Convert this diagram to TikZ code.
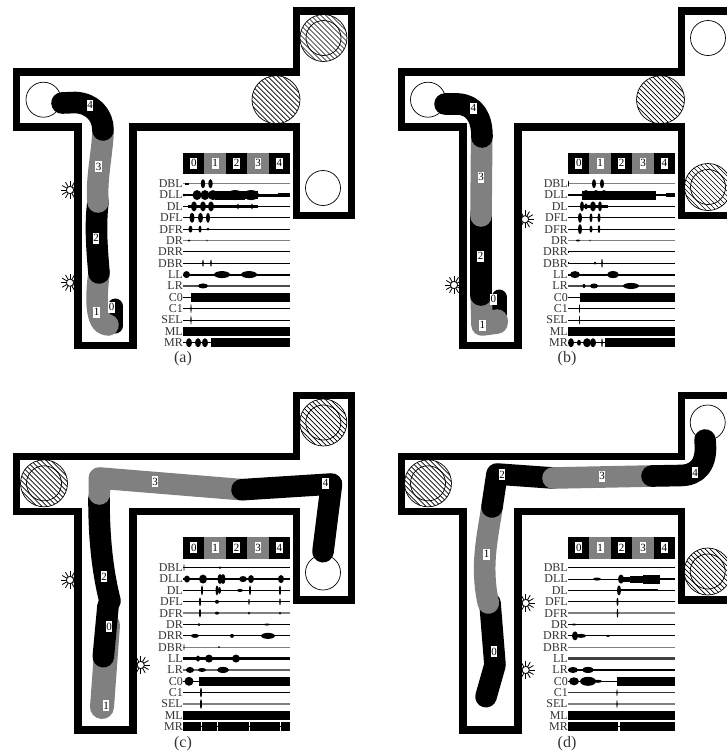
\documentclass[tikz,border=0pt]{standalone}
\usepackage{fontspec}
\setmainfont{Liberation Serif}
\definecolor{gr}{gray}{0.5}
\definecolor{txt}{gray}{0.2}
\tikzset{
  wallline/.style={line width=7.4pt,draw=black,line join=miter},
  segblack/.style={line width=21.6pt,draw=black,line cap=round,line join=round},
  seggray/.style={line width=21.6pt,draw=gr,line cap=round,line join=round},
  numbox/.style={fill=white,inner sep=0pt,minimum width=6.8pt,minimum height=11pt,font=\fontsize{11}{11}\selectfont,text=black},
  siglabel/.style={anchor=east,inner sep=0pt,font=\fontsize{12}{12}\selectfont,text=txt},
  caption/.style={inner sep=0pt,font=\fontsize{16}{16}\selectfont,text=txt},
  ring/.style={draw=black,line width=0.7pt},
}
\newcommand\arena{%
  \draw[wallline] (78,127)--(16.7,127)--(16.7,72)--(296.5,72)--(296.5,11)--(351.7,11)--(351.7,215.5)--(296.5,215.5)--(296.5,127)--(133,127)--(133,345.5)--(78,345.5)--cycle;}
\newcommand\hatchcirc[3]{%
  \begin{scope}
    \clip (#1,#2) circle (#3);
    \foreach \d in {-50,-45,...,50}
      \draw[line width=0.7pt] ({#1+\d-30},{#2-30})--({#1+\d+30},{#2+30});
  \end{scope}
  \draw[ring] (#1,#2) circle (#3);}
\newcommand\hatchinner[2]{\hatchcirc{#1}{#2}{23.5}\draw[ring] (#1,#2) circle (17.5);}
\newcommand\opencirc[2]{\draw[ring,fill=white] (#1,#2) circle (17.5);}
\newcommand\sunburst[2]{%
  \foreach \a in {0,30,...,330}
    \draw[line width=0.8pt] ($(#1,#2)+(\a:3)$)--($(#1,#2)+(\a:9)$);
  \draw[line width=0.8pt,fill=white] (#1,#2) circle (3.6);}
\newcommand\phasebar[1]{%
  \fill[black] (183.3,152.7) rectangle (204.3,174);
  \fill[gr] (204.3,152.7) rectangle (226,174);
  \fill[black] (226,152.7) rectangle (247.3,174);
  \fill[gr] (247.3,152.7) rectangle (268.7,174);
  \fill[black] (268.7,152.7) rectangle (290,174);
  \node[numbox] (#1-b0) at (193.8,163.3) {0};
  \node[numbox] (#1-b1) at (215.2,163.3) {1};
  \node[numbox] (#1-b2) at (236.7,163.3) {2};
  \node[numbox] (#1-b3) at (258,163.3) {3};
  \node[numbox] (#1-b4) at (279.4,163.3) {4};}
\newcommand\sigrow[7]{%
  \begin{scope}[shift={(183,{183.7+#3*11.36})}]
    \draw[#4,line width=#5pt+0.2pt] (0,0)--(107,0);
    \foreach \px/\pw/\ph in {#6} \fill[black] (\px,0) ellipse [x radius=\pw,y radius=\ph];
    \foreach \pa/\pb/\ph in {#7} \fill[black] (\pa,-\ph) rectangle (\pb,\ph);
    \node[siglabel] (#1-#2) at (0,0) {#2};
  \end{scope}}
\newcommand\nosig{0/.01/.01}
\newcommand\nobar{0/.01/.01}
\usetikzlibrary{calc}
\begin{document}
\begin{tikzpicture}[x=1pt,y=-1pt]
\useasboundingbox (0,0) rectangle (727,753);
\clip (0,0) rectangle (727,753);
% ---------- panel a
\sunburst{70}{190}\sunburst{70}{282.7}
\arena
\hatchinner{323.5}{38}
\hatchcirc{276}{99.7}{24}
\opencirc{43.5}{99.7}
\opencirc{323}{188}
\draw[line width=15pt,line cap=round,draw=black] (115,306)--(115,326);
\draw[seggray] (99,273)..controls (96,295) and (95,325)..(108,325);
\draw[segblack] (98,202)..controls (95,225) and (97,250)..(99,273);
\draw[seggray] (103,132)..controls (102,155) and (96,180)..(98,202);
\draw[segblack] (62,103)--(75,102.5)..controls (92,103) and (103,115)..(103,130);
\node[numbox] (a-n0) at (111.5,307) {0};
\node[numbox] (a-n1) at (96.7,312) {1};
\node[numbox] (a-n2) at (96,238) {2};
\node[numbox] (a-n3) at (98.7,166.7) {3};
\node[numbox] (a-n4) at (90,105) {4};
\phasebar{a}
\sigrow{a}{DBL}{0}{gr}{1}{20/2.2/4.5,27.5/2.2/4.5}{2/6/1}
\sigrow{a}{DLL}{1}{black}{1.5}{1/1.5/1.5,14/4.5/5,22/4.5/5,30/5/5,52/8/5,68/8/5}{32/62/4.5,62/75/4,75/95/1.5,95/107/2}
\sigrow{a}{DL}{2}{black}{1}{11/3/5,20/3/5,28/3/5,55/.8/3,69/.8/3}{5/75/1.2}
\sigrow{a}{DFL}{3}{black}{.8}{9/2.5/5,17.5/2.5/5,25/2/5}{\nobar}
\sigrow{a}{DFR}{4}{black}{.8}{7.5/2/3.5,17/1.5/3.5,25/1.5/1.5}{\nobar}
\sigrow{a}{DR}{5}{gr}{1.2}{6/1.5/1,24/.6/1}{\nobar}
\sigrow{a}{DRR}{6}{black}{.8}{\nosig}{\nobar}
\sigrow{a}{DBR}{7}{black}{.7}{20/.8/3.5,28/.8/3.5}{\nobar}
\sigrow{a}{LL}{8}{black}{1.8}{3.5/3.5/3.5,39/8/3.5,66/8/3.5}{\nobar}
\sigrow{a}{LR}{9}{black!70}{1.4}{20/5/2.5}{\nobar}
\sigrow{a}{C0}{10}{black}{.8}{\nosig}{8/107/4.7}
\sigrow{a}{C1}{11}{black}{.8}{8/.6/4.5}{\nobar}
\sigrow{a}{SEL}{12}{black}{.8}{8/.6/4.5}{\nobar}
\sigrow{a}{ML}{13}{black}{.8}{\nosig}{0/107/4.6}
\sigrow{a}{MR}{14}{black}{.8}{6/3/4.5,15/3/4.5,22/3/4.5}{28/107/4.5}
\node[caption] (a-cap) at (183,359) {(a)};
% ---------- panel b
\sunburst{454}{285}\sunburst{525}{219.3}
\begin{scope}[shift={(385,0)}]
\arena
\opencirc{43}{99.7}
\opencirc{323}{38}
\hatchcirc{275.5}{99.7}{24}
\hatchinner{323}{187}
\end{scope}
\draw[line width=15pt,line cap=round,draw=black] (499,297)--(499,318);
\draw[seggray] (481,290)--(482,325)--(497,323)--(497,320);
\draw[segblack] (481,216)--(481,295);
\draw[seggray] (481.7,137)--(481,216);
\draw[segblack] (445,104)--(458,104)..controls (475,105) and (482,118)..(482,137);
\node[numbox] (b-n0) at (493.3,299.3) {0};
\node[numbox] (b-n1) at (482.3,325) {1};
\node[numbox] (b-n2) at (480.7,256) {2};
\node[numbox] (b-n3) at (481,177) {3};
\node[numbox] (b-n4) at (473.3,108) {4};
\begin{scope}[shift={(385,0)}]
\phasebar{b}
\sigrow{b}{DBL}{0}{gr}{1}{0.5/.5/3,26/2/4.5,34/2/4.5}{\nobar}
\sigrow{b}{DLL}{1}{black}{1}{18/4.5/5,28/4.5/5,36/4/5}{14/88/4.5,88/98/1.3,98/107/2}
\sigrow{b}{DL}{2}{black}{1.2}{14/2/5,18/1.5/3,25/3/5,32/2/5}{12/40/1.5}
\sigrow{b}{DFL}{3}{black}{.8}{12/2/5,23/1.5/4.5,31/1.5/4.5}{\nobar}
\sigrow{b}{DFR}{4}{black}{.8}{12/2/5,23/1.5/3.5,31/1.2/4}{\nobar}
\sigrow{b}{DR}{5}{gr}{1.2}{10/2/1,22/.6/1}{\nobar}
\sigrow{b}{DRR}{6}{black}{.8}{\nosig}{0/1/1}
\sigrow{b}{DBR}{7}{black}{.7}{27/1.5/1.5,34/.8/4.5}{0/1/1}
\sigrow{b}{LL}{8}{black}{1.8}{7/5/3.5,45/6/3.5}{\nobar}
\sigrow{b}{LR}{9}{black!70}{1.4}{16/1.5/2,26/4/2.5,63/8/3}{\nobar}
\sigrow{b}{C0}{10}{black}{.8}{\nosig}{12/107/4.7}
\sigrow{b}{C1}{11}{black}{.8}{11.5/.5/4.5}{\nobar}
\sigrow{b}{SEL}{12}{black}{.8}{11.5/.5/4.5}{\nobar}
\sigrow{b}{ML}{13}{black}{.8}{\nosig}{0/107/4.6}
\sigrow{b}{MR}{14}{black}{.8}{3/3/4.5,11/2/3,19/4/4.5,25/3/4.5,34/.8/4.5}{37/107/4.5}
\end{scope}
\node[caption] (b-cap) at (567,359) {(b)};
% ---------- panel c
\sunburst{70}{580}\sunburst{140.7}{665}
\begin{scope}[shift={(0,384.5)}]
\arena
\hatchinner{44}{98.8}
\hatchinner{323.3}{38}
\opencirc{323}{188}
\end{scope}
\draw[gr,line width=24pt,line cap=round] (102,707)--(108,625);
\draw[segblack] (103.3,656.7)--(108,606);
\draw[segblack] (99,498)..controls (99,530) and (101,565)..(110,601);
\draw[seggray] (99.3,494)--(99.3,478)--(242,489.7);
\draw[segblack] (323,551.7)--(331.5,484)--(242,489.7);
\node[numbox] (c-n0) at (109,626.7) {0};
\node[numbox] (c-n1) at (106,705.7) {1};
\node[numbox] (c-n2) at (104,576.7) {2};
\node[numbox] (c-n3) at (155,481.7) {3};
\node[numbox] (c-n4) at (325.7,483) {4};
\begin{scope}[shift={(0,384)}]
\begin{scope}[yshift=-0.5pt]\phasebar{c}\end{scope}
\sigrow{c}{DBL}{0}{black}{.8}{1/.5/3.5,37/1/1.5}{\nobar}
\sigrow{c}{DLL}{1}{black}{1}{4/3/3.5,20/4/4.5,37/2.5/5,40/2.5/5,60/4/3,68/3/4,98/3/4}{\nobar}
\sigrow{c}{DL}{2}{black}{1}{19/1/5,34/1.5/5,36.5/1.5/3.5,57/3/1.5,67/1/5,97/1/5}{\nobar}
\sigrow{c}{DFL}{3}{black}{.8}{17/1/4.5,34/2/2,66/.8/3,97/.8/3.5}{\nobar}
\sigrow{c}{DFR}{4}{gr}{1.2}{17/1/4.5,34/2/1.5,66/1/1.5,97/1/1.5}{\nobar}
\sigrow{c}{DR}{5}{black}{.8}{16/1.5/1.5,84/3/1}{\nobar}
\sigrow{c}{DRR}{6}{black}{.9}{12/4/2,49/2/2,85/7/3}{\nobar}
\sigrow{c}{DBR}{7}{gr}{1.2}{1/.5/3,36/1/1}{\nobar}
\sigrow{c}{LL}{8}{black}{2.6}{15/2/3,26/4/4,53/4/4}{\nobar}
\sigrow{c}{LR}{9}{black!60}{1}{7/4/3,19/4/2,40/6/3}{\nobar}
\sigrow{c}{C0}{10}{black}{.8}{6/4.5/4.5}{16/107/4.7}
\sigrow{c}{C1}{11}{black}{.8}{18/1/5}{\nobar}
\sigrow{c}{SEL}{12}{gr}{1.2}{18/1/5}{\nobar}
\sigrow{c}{ML}{13}{black}{.8}{\nosig}{0/107/4.6}
\sigrow{c}{MR}{14}{black}{.5}{\nosig}{0/17.5/4.6,18.5/33.5/4.6,34.5/65.5/4.6,66.5/96.5/4.6,97.5/107/4.6}
\end{scope}
\node[caption] (c-cap) at (183,744) {(c)};
% ---------- panel d
\sunburst{525.7}{603}\sunburst{525.7}{670}
\begin{scope}[shift={(385,384.5)}]
\arena
\hatchinner{43}{98.8}
\opencirc{322.7}{38}
\hatchinner{322.7}{187}
\end{scope}
\draw[segblack] (490,603)--(495,665)--(486,696.7);
\draw[seggray] (492,507)..controls (488,535) and (480,565)..(488.3,603);
\draw[segblack] (553,478)--(497,474)--(492,507);
\draw[seggray] (652,476)--(553,478);
\draw[segblack] (705,440)..controls (708,465) and (697,475.5)..(680,475.5)--(652,476);
\node[numbox] (d-n0) at (494,651.7) {0};
\node[numbox] (d-n1) at (486.7,554) {1};
\node[numbox] (d-n2) at (502,474.7) {2};
\node[numbox] (d-n3) at (602,476) {3};
\node[numbox] (d-n4) at (695,472.7) {4};
\begin{scope}[shift={(385,384)}]
\begin{scope}[yshift=-0.5pt]\phasebar{d}\end{scope}
\sigrow{d}{DBL}{0}{black}{.8}{\nosig}{\nobar}
\sigrow{d}{DLL}{1}{black}{.8}{29/4/1.5,53/3/4.5}{51/62/2.5,62/75/3.5,75/92/4.5,92/107/1}
\sigrow{d}{DL}{2}{black}{.8}{51/2/5}{52/90/1}
\sigrow{d}{DFL}{3}{black}{.8}{49.5/1/4}{\nobar}
\sigrow{d}{DFR}{4}{gr}{1.2}{49.5/.8/4.5}{\nobar}
\sigrow{d}{DR}{5}{black}{.8}{6/2/1}{\nobar}
\sigrow{d}{DRR}{6}{black}{.8}{7/3/4.5,13/5/2,40/2/1}{\nobar}
\sigrow{d}{DBR}{7}{gr}{1.2}{\nosig}{\nobar}
\sigrow{d}{LL}{8}{black!75}{2}{\nosig}{\nobar}
\sigrow{d}{LR}{9}{black}{1.6}{5/5/3,20/6/3}{\nobar}
\sigrow{d}{C0}{10}{black}{.8}{6/5/4,20/8/4.5,30/4/1.5}{49/107/4.7}
\sigrow{d}{C1}{11}{black!80}{.8}{49/.6/3.5}{\nobar}
\sigrow{d}{SEL}{12}{gr}{1.2}{49/.6/4}{\nobar}
\sigrow{d}{ML}{13}{black}{.8}{\nosig}{0/107/4.6}
\sigrow{d}{MR}{14}{black}{.8}{\nosig}{0/50/4.5,51.5/107/4.6}
\end{scope}
\node[caption] (d-cap) at (567,744) {(d)};
\end{tikzpicture}
\end{document}
